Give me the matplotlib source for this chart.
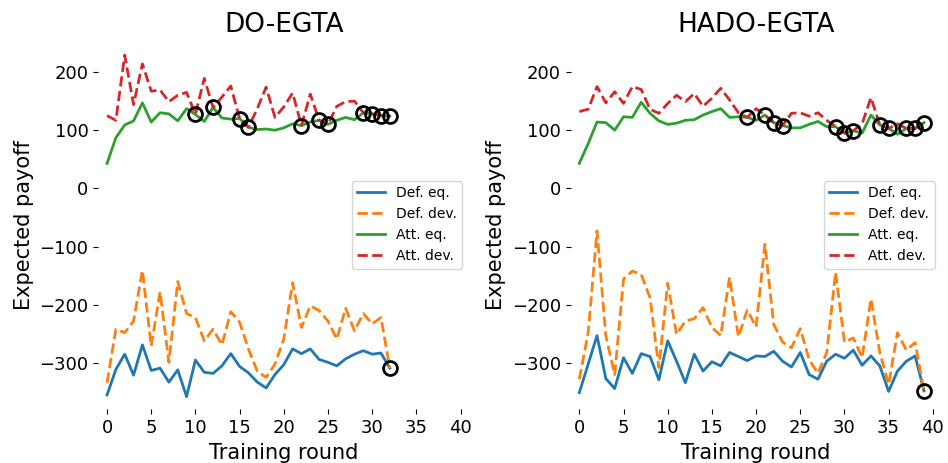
import matplotlib
matplotlib.use("Agg")
import matplotlib.pyplot as plt

# DO-EGTA run (rounds 0..32)
do_def_eq = [-355, -311, -285, -321, -269, -313, -309, -333, -312, -358,
             -295, -316, -318, -305, -284, -306, -317, -333, -343, -320,
             -303, -276, -284, -276, -294, -299, -305, -293, -285, -279,
             -285, -283, -309]
do_def_dev = [-334, -242, -248, -228, -141, -271, -178, -299, -160, -215,
              -222, -262, -242, -269, -212, -230, -276, -314, -325, -302,
              -259, -162, -239, -202, -210, -228, -259, -206, -245, -215,
              -233, -222, -309]
do_att_eq = [43, 87, 109, 116, 147, 114, 130, 128, 116, 137,
             127, 115, 139, 121, 119, 120, 105, 101, 102, 100,
             104, 111, 108, 114, 117, 110, 117, 122, 118, 130,
             128, 125, 124]
do_att_dev = [125, 117, 229, 144, 214, 167, 169, 149, 160, 165,
              127, 189, 139, 157, 176, 120, 105, 137, 174, 122,
              140, 164, 108, 162, 117, 110, 141, 149, 150, 130,
              128, 125, 124]
do_att_marks = [10, 12, 15, 16, 22, 24, 25, 29, 30, 31, 32]
do_def_marks = [32]

# HADO-EGTA run (rounds 0..39)
hado_def_eq = [-351, -302, -253, -327, -344, -291, -318, -284, -289, -329,
               -262, -297, -334, -285, -314, -298, -305, -282, -289, -296,
               -288, -289, -280, -297, -307, -282, -320, -328, -297, -285,
               -292, -278, -304, -288, -305, -349, -314, -297, -288, -348]
hado_def_dev = [-328, -248, -73, -254, -320, -156, -142, -148, -188, -308,
                -163, -251, -228, -224, -205, -239, -253, -153, -255, -209,
                -238, -96, -234, -264, -274, -241, -294, -318, -282, -144,
                -264, -257, -291, -190, -282, -337, -248, -278, -265, -348]
hado_att_eq = [43, 77, 114, 113, 100, 123, 122, 148, 129, 116,
               110, 112, 117, 118, 126, 132, 137, 122, 123, 122,
               117, 126, 113, 108, 104, 104, 110, 115, 106, 106,
               95, 99, 95, 126, 109, 103, 93, 103, 103, 113]
hado_att_dev = [132, 136, 175, 147, 166, 146, 175, 170, 136, 129,
                146, 160, 149, 163, 141, 155, 172, 152, 130, 122,
                137, 126, 113, 108, 129, 130, 124, 130, 117, 106,
                95, 99, 111, 156, 109, 103, 111, 103, 103, 113]
hado_att_marks = [19, 21, 22, 23, 29, 30, 31, 34, 35, 37, 38, 39]
hado_def_marks = [39]

titles = ["DO-EGTA", "HADO-EGTA"]
runs = [
    (do_def_eq, do_def_dev, do_att_eq, do_att_dev, do_att_marks, do_def_marks),
    (hado_def_eq, hado_def_dev, hado_att_eq, hado_att_dev, hado_att_marks, hado_def_marks),
]

fig = plt.figure(figsize=(9.48, 4.63), dpi=100)
lefts = [0.1036, 0.6018]
lw = 2

for left, title, run in zip(lefts, titles, runs):
    def_eq, def_dev, att_eq, att_dev, att_marks, def_marks = run
    ax = fig.add_axes([left, 0.1156, 0.3915, 0.798])
    rounds = list(range(len(def_eq)))
    ax.plot(rounds, def_eq, color="C0", lw=lw, label="Def. eq.")
    ax.plot(rounds, def_dev, color="C1", lw=lw, ls="--", label="Def. dev.")
    ax.plot(rounds, att_eq, color="C2", lw=lw, label="Att. eq.")
    ax.plot(rounds, att_dev, color="C3", lw=lw, ls="--", label="Att. dev.")
    # rounds where no beneficial deviation was found
    ax.plot(att_marks, [att_dev[i] for i in att_marks], "o", mfc="none",
            mec="black", ms=10, mew=2)
    ax.plot(def_marks, [def_dev[i] for i in def_marks], "o", mfc="none",
            mec="black", ms=10, mew=2)
    ax.set_xlim(-1, 41)
    ax.set_ylim(-380, 255)
    ax.set_xticks(range(0, 41, 5))
    ax.set_yticks(range(-300, 201, 100))
    for s in ax.spines.values():
        s.set_visible(False)
    ax.tick_params(labelsize=13)
    ax.set_xlabel("Training round", fontsize=15)
    ax.set_ylabel("Expected payoff", fontsize=15)
    ax.set_title(title, fontsize=19)
    ax.legend(loc="center right", fontsize=10)

fig.savefig("out.png", dpi=100)
